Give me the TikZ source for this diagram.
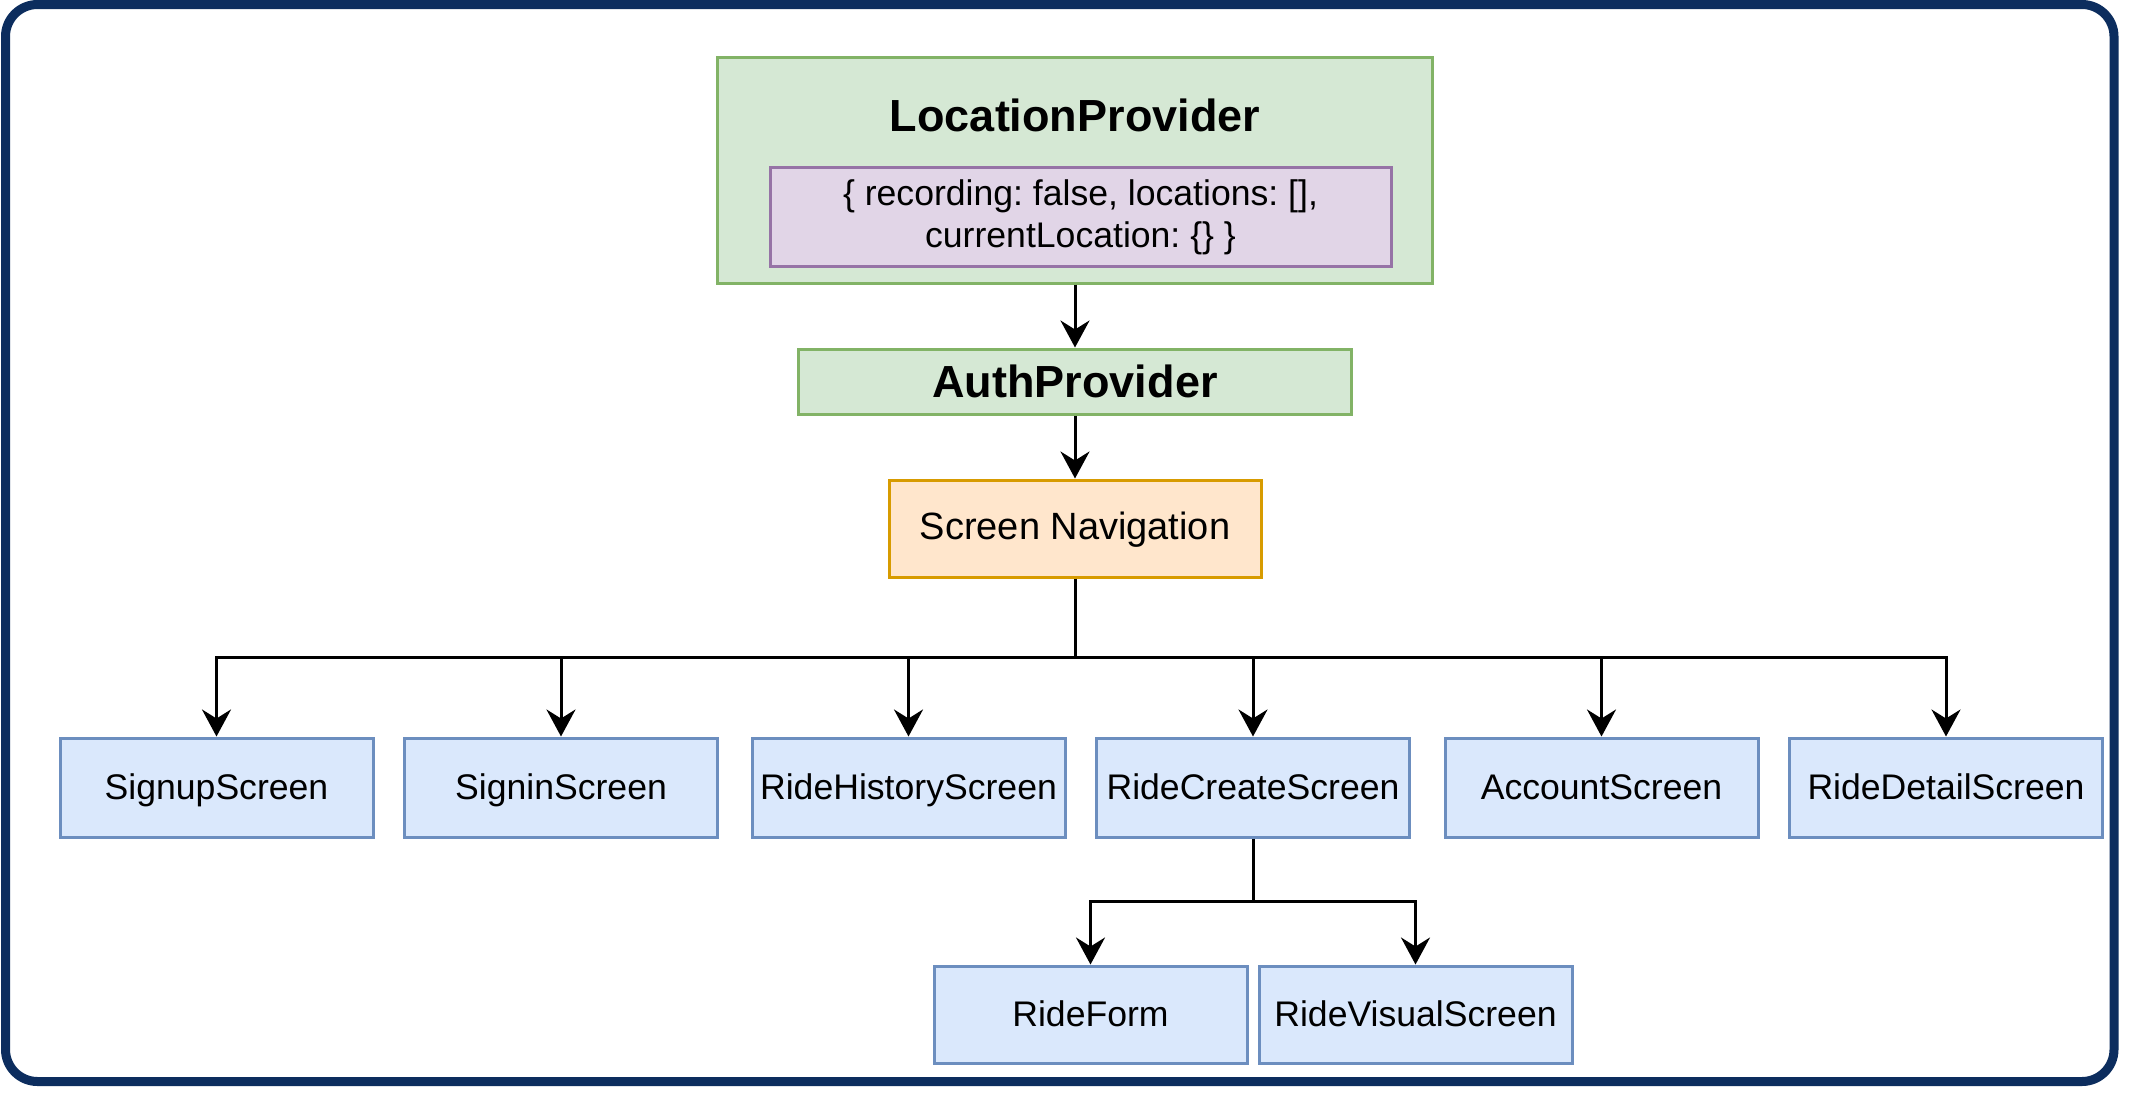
\documentclass[tikz,border=0pt]{standalone}
\usepackage{fontspec}
\setmainfont{Liberation Sans}
\usetikzlibrary{arrows.meta}
\definecolor{navy}{RGB}{12,45,94}
\definecolor{gfill}{HTML}{D5E8D4}
\definecolor{gline}{HTML}{82B366}
\definecolor{pfill}{HTML}{E1D5E7}
\definecolor{pline}{HTML}{9673A6}
\definecolor{ofill}{HTML}{FFE6CC}
\definecolor{oline}{HTML}{D79B00}
\definecolor{bfill}{HTML}{DAE8FC}
\definecolor{bline}{HTML}{6C8EBF}
\tikzset{
  boxbase/.style={draw, line width=3pt, inner sep=0pt, align=center, text=black},
  greenbox/.style={boxbase, fill=gfill, draw=gline},
  purplebox/.style={boxbase, fill=pfill, draw=pline, font=\fontsize{35.6}{42}\selectfont\frenchspacing,
    text height=70pt, text depth=9pt},
  orangebox/.style={boxbase, fill=ofill, draw=oline, font=\fontsize{38}{44}\selectfont,
    text height=21pt, text depth=0pt},
  screenbox/.style={boxbase, fill=bfill, draw=bline, minimum width=313pt, minimum height=99pt,
    font=\fontsize{35.6}{42}\selectfont, text height=23pt, text depth=0pt},
  boldtext/.style={font=\fontsize{45}{52}\selectfont\bfseries, text height=32pt, text depth=0pt},
  conn/.style={line width=3pt, draw=black},
  arr/.style={conn, -{Stealth[length=27pt, width=29pt, inset=9pt]}}
}
\begin{document}
\begin{tikzpicture}[x=1pt, y=-1pt]
\useasboundingbox (0,0) rectangle (2136,1100);
\fill[white] (0,0) rectangle (2136,1100);
\draw[navy, line width=9pt, rounded corners=32pt] (5.5,4.5) rectangle (2114,1081.5);

% top providers
\node[greenbox, minimum width=715pt, minimum height=226pt] (loc) at (1075,170) {};
\node[boldtext] (loctitle) at (1075,115) {LocationProvider};
\node[purplebox, minimum width=621pt, minimum height=99pt] (state) at (1080.5,216.5)
  {\{ recording: false, locations: [],\\ currentLocation: \{\} \}};
\node[greenbox, boldtext, minimum width=553pt, minimum height=65pt] (auth) at (1075,381.5) {AuthProvider};
\node[orangebox, minimum width=372pt, minimum height=97pt] (nav) at (1075,528.5) {Screen Navigation};

% screens
\node[screenbox] (s1) at (216.5,787.5) {SignupScreen};
\node[screenbox] (s2) at (561,787.5) {SigninScreen};
\node[screenbox] (s3) at (908.5,787.5) {RideHistoryScreen};
\node[screenbox] (s4) at (1253,787.5) {RideCreateScreen};
\node[screenbox] (s5) at (1601.5,787.5) {AccountScreen};
\node[screenbox] (s6) at (1946,787.5) {RideDetailScreen};
\node[screenbox, minimum height=97pt] (f1) at (1090.5,1014.5) {RideForm};
\node[screenbox, minimum height=97pt] (f2) at (1415.5,1014.5) {RideVisualScreen};

% connectors
\draw[arr] (loc.south) -- (auth.north);
\draw[arr] (auth.south) -- (nav.north);
\coordinate (bus) at (1075,657);
\draw[conn] (nav.south) -- (bus);
\foreach \s in {s1,s2,s3,s4,s5,s6} {
  \draw[arr] (bus) -| (\s.north);
}
\coordinate (subbus) at (1253,901);
\draw[conn] (s4.south) -- (subbus);
\draw[arr] (subbus) -| (f1.north);
\draw[arr] (subbus) -| (f2.north);
\end{tikzpicture}
\end{document}
